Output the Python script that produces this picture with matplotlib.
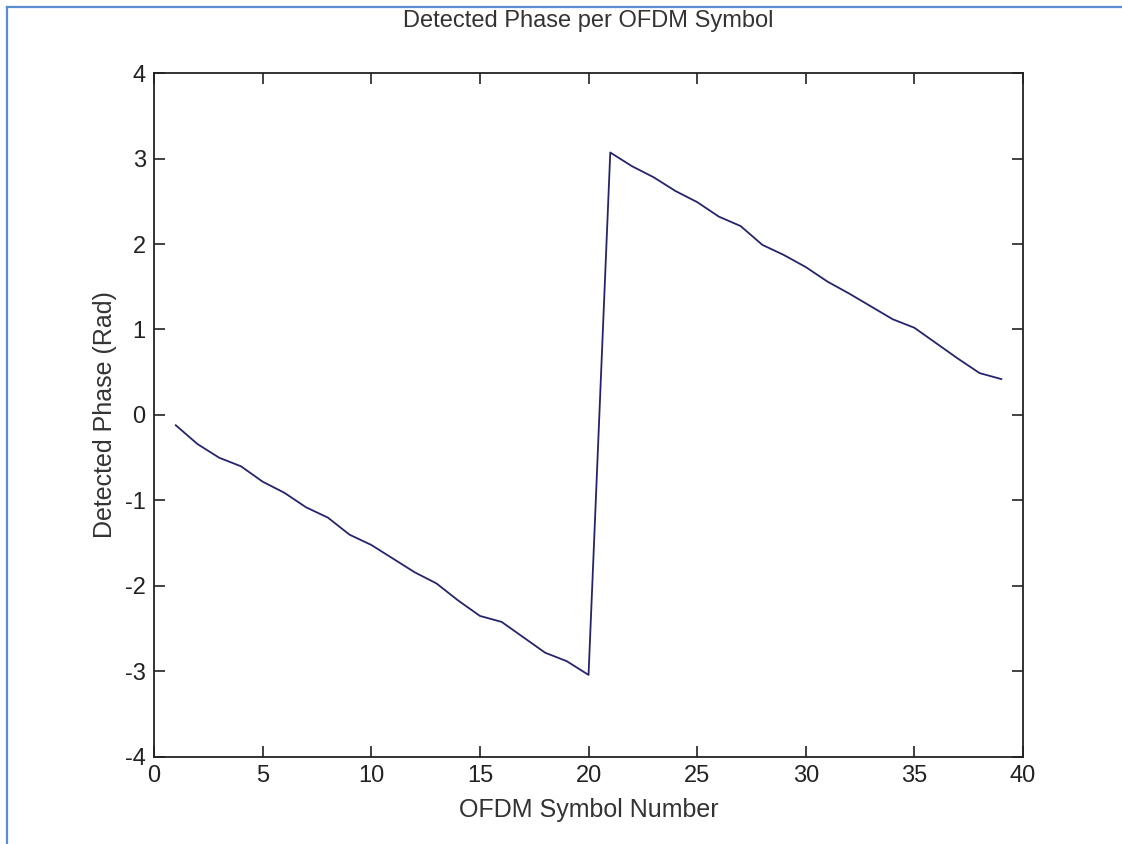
import numpy as np
import matplotlib.pyplot as plt
from matplotlib.lines import Line2D

plt.rcParams['font.family'] = ['Liberation Sans', 'DejaVu Sans']
plt.rcParams['axes.unicode_minus'] = False

# 每个 OFDM 符号检测到的相位
symbol_num = np.arange(1, 40)
phase = [-0.12, -0.34, -0.50, -0.60, -0.78, -0.91, -1.08, -1.20, -1.40, -1.52,
         -1.68, -1.84, -1.97, -2.17, -2.35, -2.42, -2.60, -2.78, -2.88, -3.04,
         3.07, 2.91, 2.78, 2.62, 2.49, 2.32, 2.21, 1.99, 1.87, 1.73,
         1.56, 1.42, 1.27, 1.12, 1.02, 0.84, 0.66, 0.49, 0.42]
x_ticks = [0, 5, 10, 15, 20, 25, 30, 35, 40]
y_ticks = [-4, -3, -2, -1, 0, 1, 2, 3, 4]

fig = plt.figure(figsize=(11.22, 8.44), dpi=100)
ax = fig.add_axes([0.1373, 0.1031, 0.7745, 0.8104])

ax.plot(symbol_num, phase, color='#24246e', lw=1.3)

ax.set_xlim(0, 40)
ax.set_ylim(-4, 4)
ax.set_xticks(x_ticks)
ax.set_yticks(y_ticks)
ax.tick_params(direction='in', length=8, width=1.2, top=True, right=True,
               labelsize=17, colors='#222222', pad=6)
for s in ax.spines.values():
    s.set_linewidth(1.3)
    s.set_color('#222222')

ax.set_xlabel('OFDM Symbol Number', fontsize=18, color='#333333', labelpad=8)
ax.set_ylabel('Detected Phase (Rad)', fontsize=18, color='#333333', labelpad=6)
ax.set_title('Detected Phase per OFDM Symbol', fontsize=17, color='#333333', pad=33)

# 外框 (蓝色, 左边和上边)
W, H = 1122, 844
fig.add_artist(Line2D([7 / W, 7 / W], [0, 1 - 7 / H], color='#5b8bd0', lw=1.6,
                      transform=fig.transFigure))
fig.add_artist(Line2D([7 / W, 1], [1 - 7 / H, 1 - 7 / H], color='#5b8bd0', lw=1.6,
                      transform=fig.transFigure))

fig.savefig('out.png', dpi=100)
